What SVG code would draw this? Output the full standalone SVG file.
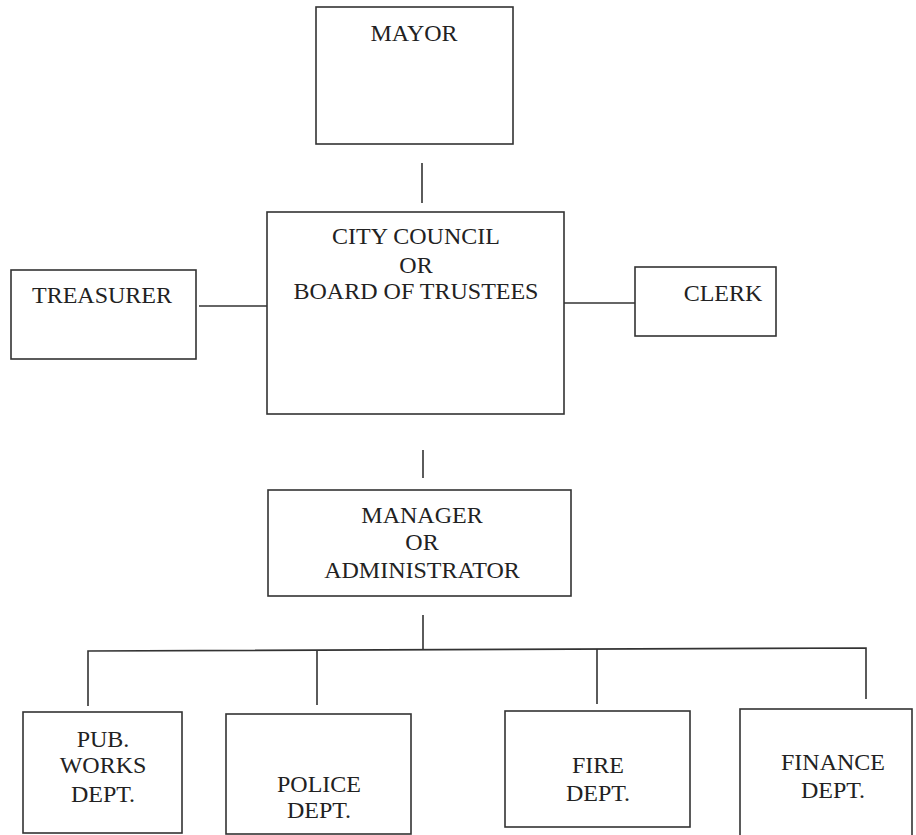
<svg xmlns="http://www.w3.org/2000/svg" width="916" height="835" viewBox="0 0 916 835">
<style>
.box{fill:#fff;stroke:#333;stroke-width:1.6}
.ln{stroke:#333;stroke-width:1.6;fill:none}
text{font-family:"Liberation Serif","Times New Roman",serif;font-size:24px;fill:#222;text-anchor:middle}
</style>
<rect width="916" height="835" fill="#fff"/>
<g id="connectors">
<line class="ln" x1="422" y1="163" x2="422" y2="203"/>
<line class="ln" x1="199" y1="306" x2="267" y2="306"/>
<line class="ln" x1="564" y1="303" x2="635" y2="303"/>
<line class="ln" x1="423" y1="450" x2="423" y2="478"/>
<line class="ln" x1="423" y1="615" x2="423" y2="650"/>
<polyline class="ln" points="88,706 88,651 866,648 866,699"/>
<line class="ln" x1="317" y1="651" x2="317" y2="705"/>
<line class="ln" x1="597" y1="649" x2="597" y2="704"/>
</g>
<g id="mayor">
<rect class="box" x="316" y="7" width="197" height="137"/>
<text x="414" y="41">MAYOR</text>
</g>
<g id="council">
<rect class="box" x="267" y="212" width="297" height="202"/>
<text x="416" y="244">CITY COUNCIL</text>
<text x="416" y="273">OR</text>
<text x="416" y="299">BOARD OF TRUSTEES</text>
</g>
<g id="treasurer">
<rect class="box" x="11" y="270" width="185" height="89"/>
<text x="102" y="303">TREASURER</text>
</g>
<g id="clerk">
<rect class="box" x="635" y="267" width="141" height="69"/>
<text x="723" y="301">CLERK</text>
</g>
<g id="manager">
<rect class="box" x="268" y="490" width="303" height="106"/>
<text x="422" y="523">MANAGER</text>
<text x="422" y="550">OR</text>
<text x="422" y="578">ADMINISTRATOR</text>
</g>
<g id="pubworks">
<rect class="box" x="23" y="712" width="159" height="121"/>
<text x="103" y="747">PUB.</text>
<text x="103" y="773">WORKS</text>
<text x="103" y="802">DEPT.</text>
</g>
<g id="police">
<rect class="box" x="226" y="714" width="185" height="120"/>
<text x="319" y="792">POLICE</text>
<text x="319" y="818">DEPT.</text>
</g>
<g id="fire">
<rect class="box" x="505" y="711" width="185" height="116"/>
<text x="598" y="773">FIRE</text>
<text x="598" y="801">DEPT.</text>
</g>
<g id="finance">
<rect class="box" x="740" y="709" width="172" height="130"/>
<text x="833" y="770">FINANCE</text>
<text x="833" y="798">DEPT.</text>
</g>
</svg>
